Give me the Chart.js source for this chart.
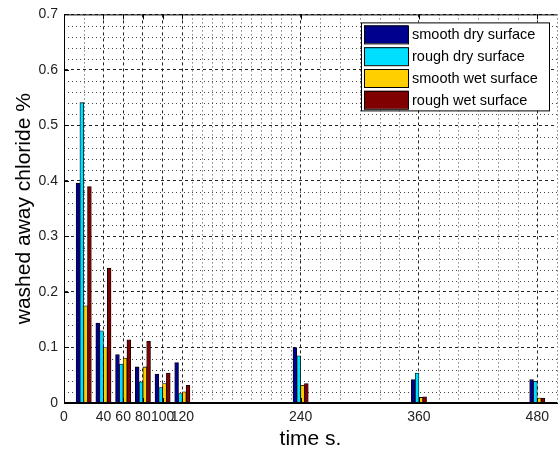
<!DOCTYPE html>
<html>
<head>
<meta charset="utf-8">
<script src="https://cdn.jsdelivr.net/npm/chart.js@4/dist/chart.umd.min.js"></script>
<style>
  html, body { margin: 0; padding: 0; background: #fff; }
  #wrap { width: 559px; height: 452px; }
</style>
</head>
<body>
<div id="wrap"><canvas id="chlorideChart"></canvas></div>
<script>
// ===== DATA =====
const times = [20, 40, 60, 80, 100, 120, 240, 360, 480];
const smoothDry = [0.396, 0.144, 0.087, 0.065, 0.052, 0.073, 0.100, 0.042, 0.042];
const roughDry  = [0.541, 0.130, 0.070, 0.038, 0.028, 0.017, 0.085, 0.054, 0.039];
const smoothWet = [0.175, 0.100, 0.081, 0.065, 0.035, 0.020, 0.032, 0.010, 0.009];
const roughWet  = [0.390, 0.243, 0.114, 0.111, 0.054, 0.032, 0.035, 0.011, 0.009];

const seriesLabels = ['smooth dry surface', 'rough dry surface', 'smooth wet surface', 'rough wet surface'];
const xTickLabels = [0, 40, 60, 80, 100, 120, 240, 360, 480];
const yTickLabels = [0, 0.1, 0.2, 0.3, 0.4, 0.5, 0.6, 0.7];

// minor grid positions (MATLAB style minor grid)
const xMinor = [20, 130, 140, 150, 160, 170, 180, 190, 200, 210, 220, 230,
                260, 280, 300, 320, 340, 380, 400, 420, 440, 460, 500];
const yMinor = [];
for (let i = 1; i <= 35; i++) { if (i % 5 !== 0) yMinor.push(i * 0.02); }

const colors = ['#00008F', '#00DFFF', '#FFCF00', '#800000'];
const FONT = "'Liberation Sans', Arial, sans-serif";

function toPoints(values) {
    return times.map((t, i) => ({ x: t, y: values[i] }));
}

// ===== PLUGIN: minor grid, box, inner ticks, legend =====
const matlabAxes = {
    id: 'matlabAxes',
    beforeDatasetsDraw(chart) {
        const { ctx, chartArea: a, scales: { x, y } } = chart;
        ctx.save();
        ctx.lineWidth = 1;
        ctx.strokeStyle = '#444';
        ctx.setLineDash([1, 3]);
        xMinor.forEach(v => {
            const px = Math.round(x.getPixelForValue(v)) + 0.5;
            ctx.beginPath(); ctx.moveTo(px, a.top); ctx.lineTo(px, a.bottom); ctx.stroke();
        });
        yMinor.forEach(v => {
            const py = Math.round(y.getPixelForValue(v)) + 0.5;
            ctx.beginPath(); ctx.moveTo(a.left, py); ctx.lineTo(a.right, py); ctx.stroke();
        });
        ctx.restore();
    },
    afterDraw(chart) {
        const { ctx, chartArea: a, scales: { x, y } } = chart;
        ctx.save();
        // box lines
        ctx.strokeStyle = '#000';
        ctx.lineWidth = 1;
        ctx.setLineDash([]);
        ctx.beginPath();
        ctx.moveTo(a.left, a.top + 0.5); ctx.lineTo(a.right, a.top + 0.5);
        ctx.moveTo(a.left + 0.5, a.top); ctx.lineTo(a.left + 0.5, a.bottom);
        ctx.moveTo(a.left, a.bottom - 0.5); ctx.lineTo(a.right, a.bottom - 0.5);
        // inner ticks
        yTickLabels.forEach(v => {
            const py = Math.round(y.getPixelForValue(v)) + 0.5;
            ctx.moveTo(a.left, py); ctx.lineTo(a.left + 5, py);
        });
        xTickLabels.forEach(v => {
            const px = Math.round(x.getPixelForValue(v)) + 0.5;
            ctx.moveTo(px, a.bottom); ctx.lineTo(px, a.bottom - 5);
            ctx.moveTo(px, a.top); ctx.lineTo(px, a.top + 5);
        });
        ctx.stroke();

        // legend box
        const bw = 188, bh = 88;
        const bx = a.right - 196, by = a.top + 8;
        ctx.fillStyle = '#fff';
        ctx.fillRect(bx, by, bw, bh);
        ctx.strokeRect(bx + 0.5, by + 0.5, bw, bh);
        ctx.font = '14.5px ' + FONT;
        ctx.textBaseline = 'middle';
        ctx.textAlign = 'left';
        chart.data.datasets.forEach((ds, i) => {
            const cy = by + 12 + i * 21.8;
            ctx.fillStyle = ds.backgroundColor;
            ctx.fillRect(bx + 3, cy - 9, 44, 18);
            ctx.strokeStyle = '#000';
            ctx.strokeRect(bx + 3.5, cy - 8.5, 44, 18);
            ctx.fillStyle = '#000';
            ctx.fillText(ds.label, bx + 51, cy + 1);
        });
        ctx.restore();
    }
};

// ===== CHART =====
const ctx = document.getElementById('chlorideChart');
new Chart(ctx, {
    type: 'bar',
    data: {
        datasets: [
            { label: seriesLabels[0], data: toPoints(smoothDry), backgroundColor: colors[0] },
            { label: seriesLabels[1], data: toPoints(roughDry), backgroundColor: colors[1] },
            { label: seriesLabels[2], data: toPoints(smoothWet), backgroundColor: colors[2] },
            { label: seriesLabels[3], data: toPoints(roughWet), backgroundColor: colors[3] }
        ]
    },
    options: {
        responsive: true,
        maintainAspectRatio: false,
        animation: false,
        datasets: {
            bar: {
                barThickness: 3.8,
                borderColor: '#000',
                borderWidth: 0.8,
                borderSkipped: false
            }
        },
        layout: { padding: { top: 12, right: 2, left: 0, bottom: 0 } },
        plugins: {
            legend: { display: false },
            tooltip: { enabled: false }
        },
        scales: {
            x: {
                type: 'linear',
                min: 0,
                max: 500,
                offset: false,
                afterBuildTicks: scale => {
                    scale.ticks = xTickLabels.map(v => ({ value: v }));
                },
                afterFit: scale => { scale.height = 49; },
                grid: {
                    offset: false,
                    color: '#222',
                    lineWidth: 1,
                    drawTicks: false
                },
                border: { display: true, color: '#000', dash: [3, 3] },
                ticks: {
                    autoSkip: false,
                    maxRotation: 0,
                    padding: 6,
                    color: '#222',
                    font: { family: FONT, size: 14 },
                    callback: v => String(v)
                },
                title: {
                    display: true,
                    text: 'time s.',
                    color: '#000',
                    font: { family: FONT, size: 21 },
                    padding: { top: 0, bottom: 0 }
                }
            },
            y: {
                min: 0,
                max: 0.7,
                afterBuildTicks: scale => {
                    scale.ticks = yTickLabels.map(v => ({ value: v }));
                },
                afterFit: scale => { scale.width = 64; },
                grid: {
                    color: '#222',
                    lineWidth: 1,
                    drawTicks: false
                },
                border: { display: true, color: '#000', dash: [3, 3] },
                ticks: {
                    padding: 6,
                    color: '#222',
                    font: { family: FONT, size: 14 },
                    callback: v => String(Math.round(v * 10) / 10)
                },
                title: {
                    display: true,
                    text: 'washed away chloride %',
                    color: '#000',
                    font: { family: FONT, size: 21 },
                    padding: { top: 12, bottom: 0 }
                }
            }
        }
    },
    plugins: [matlabAxes]
});
</script>
</body>
</html>
